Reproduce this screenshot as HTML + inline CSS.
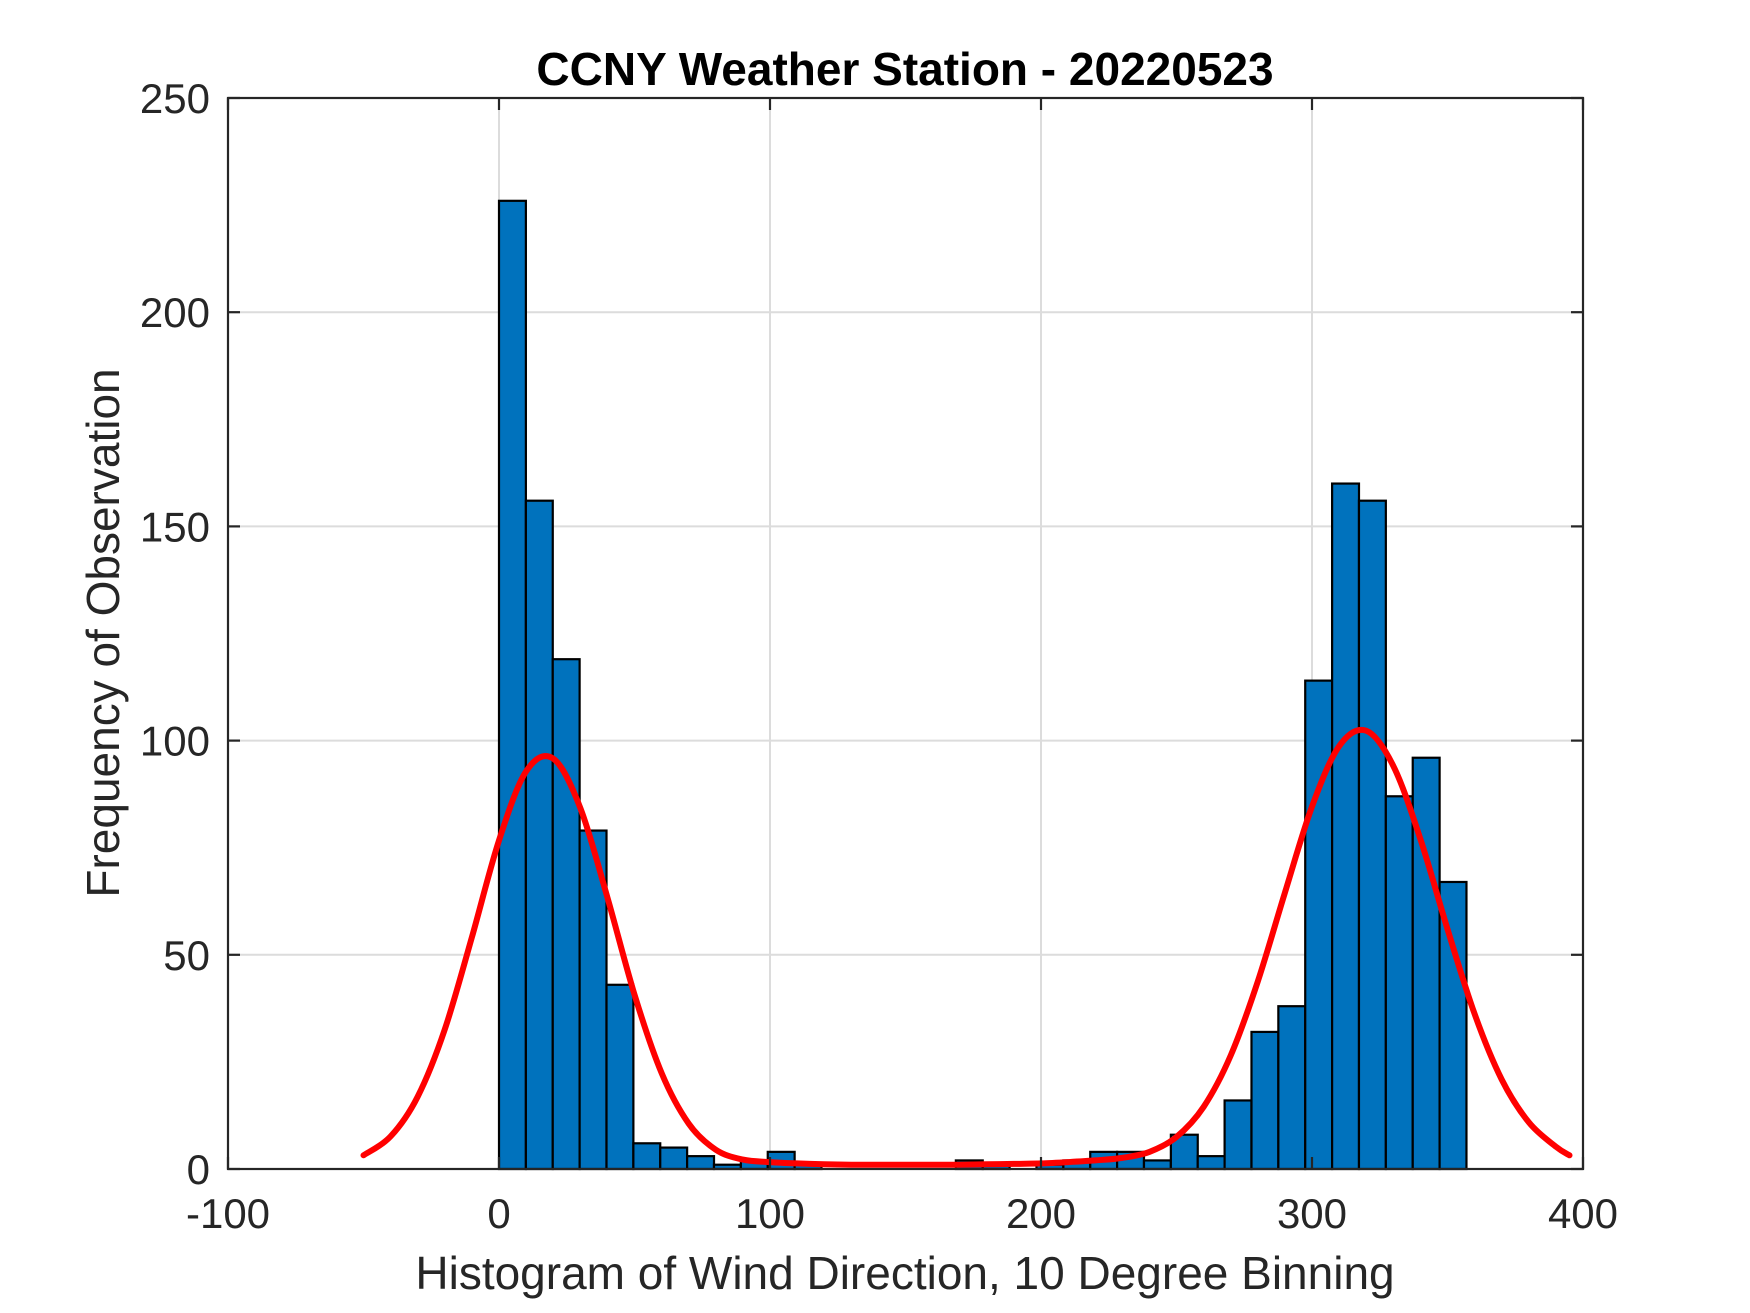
<!DOCTYPE html>
<html><head><meta charset="utf-8"><style>
html,body{margin:0;padding:0;background:#fff;}
svg{display:block;font-family:"Liberation Sans",Arial,sans-serif;}
</style></head><body>
<svg id="chart" width="1750" height="1313" viewBox="0 0 1750 1313">
<rect x="0" y="0" width="1750" height="1313" fill="#fff"/>
<g id="grid"></g>
<g id="bars"></g>
<g id="curve"></g>
<g id="axes"></g>
<text x="905" y="85" text-anchor="middle" font-size="46" font-weight="bold" fill="#000">CCNY Weather Station - 20220523</text>
<text x="905" y="1289" text-anchor="middle" font-size="46" fill="#262626">Histogram of Wind Direction, 10 Degree Binning</text>
<text x="0" y="0" transform="translate(119,633) rotate(-90)" text-anchor="middle" font-size="46" fill="#262626">Frequency of Observation</text>
</svg>
<script>
const binStarts=[0,9.92,19.83,29.75,39.67,49.58,59.5,69.42,79.33,89.25,99.17,109.08,119,128.92,138.83,148.75,158.67,168.58,178.5,188.42,198.33,208.25,218.17,228.08,238,247.92,257.83,267.75,277.67,287.58,297.5,307.42,317.33,327.25,337.17,347.08];
const binCounts=[226,156,119,79,43,6,5,3,1,2,4,1,0,0,0,0,0,2,1,0,1,2,4,4,2,8,3,16,32,38,114,160,156,87,96,67];
const binWidth=9.92;
const curveX=[-50,-40,-30,-20,-10,0,10,20,30,40,50,60,70,80,90,100,110,120,130,140,150,160,170,180,190,200,210,220,230,240,250,260,270,280,290,300,310,320,330,340,350,360,370,380,390,395];
const curveY=[3.2,7.6,16.9,32.6,54.1,76.7,92.8,95.8,84.3,63.4,40.7,22.4,10.6,4.5,2.2,1.6,1.3,1.1,1,1,1,1,1,1.1,1.2,1.3,1.6,2,2.6,4,7.5,14.5,26.5,43.8,64.5,84.6,98.7,102.3,94.1,77,56,36.2,20.9,10.9,5.2,3.2];
const xTicks=[-100,0,100,200,300,400];
const yTicks=[0,50,100,150,200,250];

const X0=228,X1=1583,Y0=1169,Y1=98;
const xMin=-100,xMax=400,yMin=0,yMax=250;
function sx(v){return X0+(v-xMin)/(xMax-xMin)*(X1-X0);}
function sy(v){return Y0-(v-yMin)/(yMax-yMin)*(Y0-Y1);}
const NS='http://www.w3.org/2000/svg';
function mk(tag,attrs,parent){const e=document.createElementNS(NS,tag);for(const k in attrs)e.setAttribute(k,attrs[k]);parent.appendChild(e);return e;}

const grid=document.getElementById('grid');
xTicks.forEach(t=>{
  const l=mk('line',{x1:sx(t),x2:sx(t),y1:Y1,y2:Y0,stroke:'#dcdcdc','stroke-width':2},grid);
  
  
});
yTicks.forEach(t=>{
  const l=mk('line',{x1:X0,x2:X1,y1:sy(t),y2:sy(t),stroke:'#dcdcdc','stroke-width':2},grid);
  
  
});

const bars=document.getElementById('bars');
binStarts.forEach((b,i)=>{
  const c=binCounts[i];
  const r=mk('rect',{x:sx(b),y:sy(c),width:sx(b+binWidth)-sx(b),height:sy(0)-sy(c),fill:'#0072bd',stroke:'#000','stroke-width':2.2},bars);
  
  
});

const curve=document.getElementById('curve');
const pts=curveX.map((x,i)=>[sx(x),sy(curveY[i])]);
let d='M'+pts[0][0].toFixed(1)+','+pts[0][1].toFixed(1);
for(let i=0;i<pts.length-1;i++){
  const p0=pts[Math.max(0,i-1)],p1=pts[i],p2=pts[i+1],p3=pts[Math.min(pts.length-1,i+2)];
  const c1=[p1[0]+(p2[0]-p0[0])/6,p1[1]+(p2[1]-p0[1])/6];
  const c2=[p2[0]-(p3[0]-p1[0])/6,p2[1]-(p3[1]-p1[1])/6];
  d+='C'+c1[0].toFixed(1)+','+c1[1].toFixed(1)+' '+c2[0].toFixed(1)+','+c2[1].toFixed(1)+' '+p2[0].toFixed(1)+','+p2[1].toFixed(1);
}
const path=mk('path',{d:d,fill:'none',stroke:'#ff0000','stroke-width':6,'stroke-linejoin':'round','stroke-linecap':'round'},curve);



const axes=document.getElementById('axes');
const box=mk('rect',{x:X0,y:Y1,width:X1-X0,height:Y0-Y1,fill:'none',stroke:'#262626','stroke-width':2.2},axes);


const TL=12;
xTicks.forEach(t=>{
  mk('line',{x1:sx(t),x2:sx(t),y1:Y0,y2:Y0-TL,stroke:'#262626','stroke-width':2.2},axes);
  mk('line',{x1:sx(t),x2:sx(t),y1:Y1,y2:Y1+TL,stroke:'#262626','stroke-width':2.2},axes);
  const tx=mk('text',{x:sx(t),y:1228,'text-anchor':'middle','font-size':42,fill:'#262626'},axes);
  tx.textContent=t;
  
  
});
yTicks.forEach(t=>{
  mk('line',{x1:X0,x2:X0+TL,y1:sy(t),y2:sy(t),stroke:'#262626','stroke-width':2.2},axes);
  mk('line',{x1:X1,x2:X1-TL,y1:sy(t),y2:sy(t),stroke:'#262626','stroke-width':2.2},axes);
  const tx=mk('text',{x:210,y:sy(t)+15,'text-anchor':'end','font-size':42,fill:'#262626'},axes);
  tx.textContent=t;
  
  
});
</script>
</body></html>
